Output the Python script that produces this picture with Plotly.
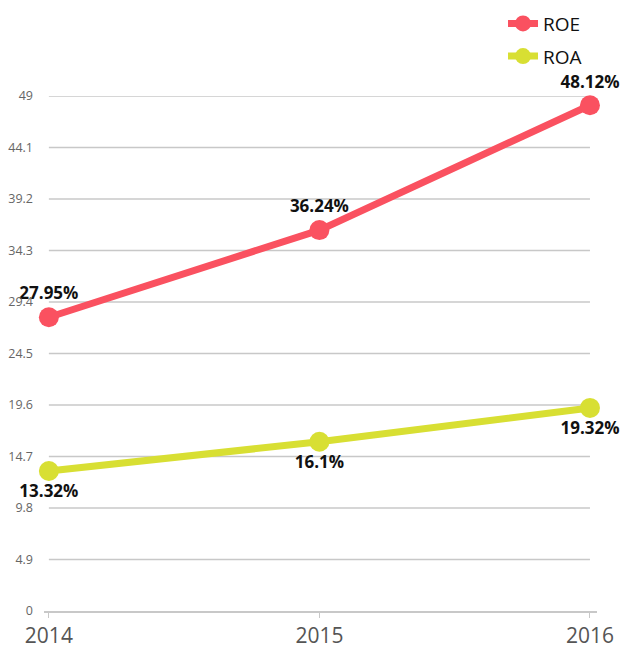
import plotly.graph_objects as go

years = [2014, 2015, 2016]
roe = [27.95, 36.24, 48.12]
roa = [13.32, 16.1, 19.32]
roe_labels = ["27.95%", "36.24%", "48.12%"]
roa_labels = ["13.32%", "16.1%", "19.32%"]
y_ticks = [0, 4.9, 9.8, 14.7, 19.6, 24.5, 29.4, 34.3, 39.2, 44.1, 49]
y_tick_text = ["0", "4.9", "9.8", "14.7", "19.6", "24.5", "29.4", "34.3", "39.2", "44.1", "49"]

RED = "#FA5160"
YEL = "#D8DF33"

fig = go.Figure()
fig.add_trace(go.Scatter(
    x=years, y=roe, name="ROE", mode="lines+markers+text", legendgroup="a",
    line=dict(color=RED, width=7), marker=dict(size=20, color=RED),
    text=roe_labels, textposition="top center",
    textfont=dict(family="Open Sans", size=17, color="#111111", weight="bold"),
    cliponaxis=False,
))
fig.add_trace(go.Scatter(
    x=years, y=roa, name="ROA", mode="lines+markers+text", legendgroup="b",
    line=dict(color=YEL, width=7), marker=dict(size=20, color=YEL),
    text=roa_labels, textposition="bottom center",
    textfont=dict(family="Open Sans", size=17, color="#111111", weight="bold"),
    cliponaxis=False,
))

for v in y_ticks[1:]:
    fig.add_shape(type="line", xref="x", yref="y", x0=years[0], x1=years[-1], y0=v, y1=v,
                  line=dict(color="#c8c8c8", width=1.3), layer="below")

fig.update_layout(
    width=621, height=649,
    margin=dict(l=44, r=24, t=96, b=38, autoexpand=False),
    plot_bgcolor="white", paper_bgcolor="white",
    font=dict(family="Open Sans", color="#555555"),
    showlegend=True,
    legend=dict(xref="container", yref="container", x=0.81, y=0.993, xanchor="left", yanchor="top",
                font=dict(family="Open Sans", size=19, color="#111111"),
                itemsizing="trace", itemwidth=30, tracegroupgap=5, bgcolor="rgba(0,0,0,0)"),
)
fig.update_xaxes(
    range=[2013.982, 2016.026], tickmode="array", tickvals=years,
    ticktext=[str(y) for y in years],
    tickfont=dict(size=21, color="#555555"),
    showgrid=False, showline=True, linecolor="#c8c8c8", linewidth=2,
    ticks="outside", ticklen=5, tickcolor="#c8c8c8", tickwidth=1,
    zeroline=False, fixedrange=True,
)
fig.update_yaxes(
    range=[0, 49], tickmode="array", tickvals=y_ticks, ticktext=y_tick_text,
    tickfont=dict(size=12.5, color="#666666"),
    showgrid=False, showline=False, zeroline=False, ticks="", ticklabelstandoff=10,
)

fig.write_html("out.html")
